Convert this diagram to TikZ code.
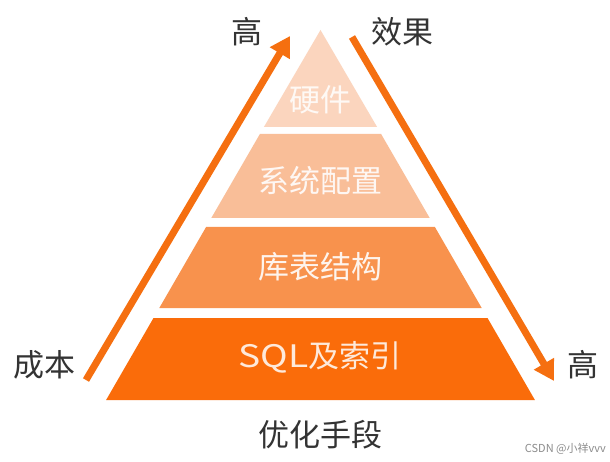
\documentclass[tikz,border=0pt]{standalone}
\usepackage{fontspec}
\newfontfamily\cjk{Noto Sans CJK SC}
\usetikzlibrary{arrows.meta}
\definecolor{tone}{HTML}{FBD5BE}
\definecolor{ttwo}{HTML}{F9BE98}
\definecolor{tthree}{HTML}{F8924D}
\definecolor{tfour}{HTML}{FA6C0A}
\definecolor{arr}{HTML}{F56F10}
\definecolor{txt}{HTML}{333333}
\begin{document}
\begin{tikzpicture}[x=1pt,y=-1pt,
  lbl/.style={font=\cjk\fontsize{31}{36}\selectfont, text=txt, inner sep=0pt},
  tierlbl/.style={font=\cjk\fontsize{31}{36}\selectfont, text=white, inner sep=0pt},
  bigarrow/.style={draw=arr, line width=7pt, -{Triangle[length=20pt,width=22pt]}}]
\useasboundingbox (0,0) rectangle (610,462);
\fill[white] (0,0) rectangle (610,462);
% tiers
\fill[tone]   (320.5,30) -- (377.1,127) -- (263.9,127) -- cycle;
\fill[ttwo]   (259.9,134) -- (381.1,134) -- (429.7,218) -- (211.3,218) -- cycle;
\fill[tthree] (206.1,227) -- (434.9,227) -- (481.7,308) -- (159.3,308) -- cycle;
\fill[tfour]  (153.5,318) -- (487.5,318) -- (534.9,400) -- (106.1,400) -- cycle;
% tier labels
\node[tierlbl, text=white!85!tone] (hw) at (320,100) {硬件};
\node[tierlbl, text=white!88!ttwo] (sys) at (320,181) {系统配置};
\node[tierlbl, text=white!90!tthree] (tbl) at (320,267) {库表结构};
\node[tierlbl, text=white!85!tfour] (sql) at (320,357) {\scalebox{1.2}[1]{SQL}及索引};
% arrows
\coordinate (ls) at (86,380);
\coordinate (le) at (290,36);
\coordinate (rs) at (352,37);
\coordinate (re) at (554,381);
\draw[bigarrow] (ls) -- (le);
\draw[bigarrow] (rs) -- (re);
% outer labels
\node[lbl] (gaoL) at (247,32) {高};
\node[lbl] (xg) at (402,32) {效果};
\node[lbl] (cb) at (44,365) {成本};
\node[lbl] (gaoR) at (583,365) {高};
\node[lbl] (yh) at (320,435) {优化手段};
\node[font=\cjk\fontsize{11}{13}\selectfont, text=black!45, inner sep=0pt, anchor=east] (wm) at (606,449) {CSDN @小祥vvv};
\end{tikzpicture}
\end{document}
